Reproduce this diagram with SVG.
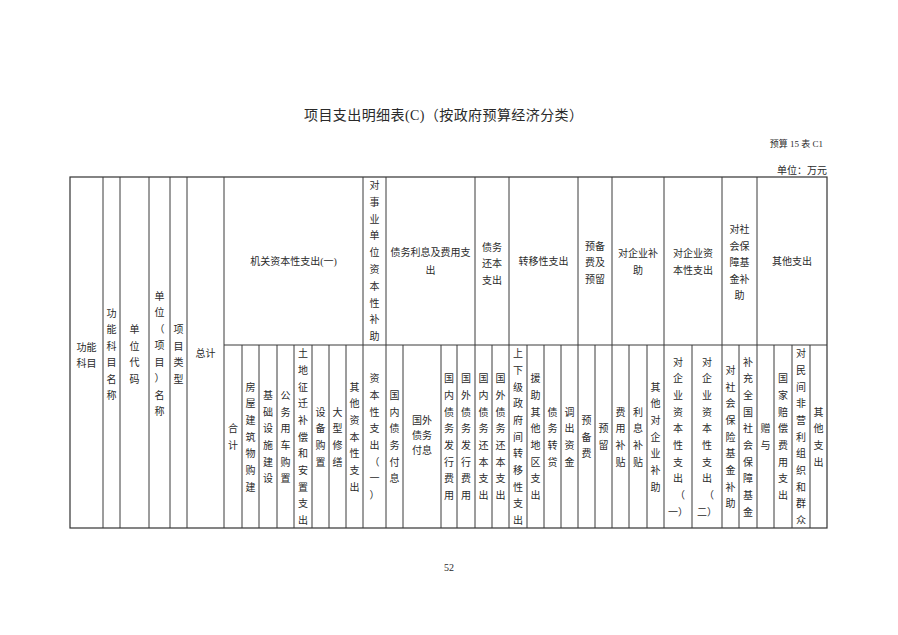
<svg xmlns="http://www.w3.org/2000/svg" width="898" height="635" viewBox="0 0 898 635">
<style>
text{font-family:"Liberation Serif","Noto Sans CJK SC",serif;fill:#2a2a2a;font-size:10px;text-anchor:middle;dominant-baseline:central}
.title{font-size:14px}
.r{text-anchor:end}
.g line{stroke:#3a3a3a;stroke-width:1}
.o{fill:none;stroke:#333;stroke-width:1.2}
</style>
<rect width="898" height="635" fill="#fff"/>
<g id="header">
<text class="title" x="443.5" y="115" textLength="279" lengthAdjust="spacing">项目支出明细表(C)（按政府预算经济分类）</text>
<text class="r" x="823" y="144" style="font-size:9px">预算 15 表 C1</text>
<text class="r" x="827" y="170">单位：万元</text>
</g>
<g id="grid" class="g">
<rect class="o" x="70" y="177" width="757" height="351"/>
<line x1="224" y1="345" x2="827" y2="345"/>
<g id="full">
<line x1="103" y1="177" x2="103" y2="528"/><line x1="120" y1="177" x2="120" y2="528"/>
<line x1="149" y1="177" x2="149" y2="528"/><line x1="170" y1="177" x2="170" y2="528"/>
<line x1="187" y1="177" x2="187" y2="528"/><line x1="224" y1="177" x2="224" y2="528"/>
<line x1="363" y1="177" x2="363" y2="528"/><line x1="386" y1="177" x2="386" y2="528"/>
<line x1="475" y1="177" x2="475" y2="528"/><line x1="509" y1="177" x2="509" y2="528"/>
<line x1="578" y1="177" x2="578" y2="528"/><line x1="612" y1="177" x2="612" y2="528"/>
<line x1="664" y1="177" x2="664" y2="528"/><line x1="722" y1="177" x2="722" y2="528"/>
<line x1="757" y1="177" x2="757" y2="528"/>
</g>
<g id="sub">
<line x1="242" y1="345" x2="242" y2="528"/><line x1="259" y1="345" x2="259" y2="528"/>
<line x1="277" y1="345" x2="277" y2="528"/><line x1="294" y1="345" x2="294" y2="528"/>
<line x1="312" y1="345" x2="312" y2="528"/><line x1="329" y1="345" x2="329" y2="528"/>
<line x1="346" y1="345" x2="346" y2="528"/><line x1="403" y1="345" x2="403" y2="528"/>
<line x1="441" y1="345" x2="441" y2="528"/><line x1="457" y1="345" x2="457" y2="528"/>
<line x1="492" y1="345" x2="492" y2="528"/><line x1="527" y1="345" x2="527" y2="528"/>
<line x1="544" y1="345" x2="544" y2="528"/><line x1="561" y1="345" x2="561" y2="528"/>
<line x1="595" y1="345" x2="595" y2="528"/><line x1="629" y1="345" x2="629" y2="528"/>
<line x1="647" y1="345" x2="647" y2="528"/><line x1="692" y1="345" x2="692" y2="528"/>
<line x1="739" y1="345" x2="739" y2="528"/><line x1="774" y1="345" x2="774" y2="528"/>
<line x1="792" y1="345" x2="792" y2="528"/><line x1="810" y1="345" x2="810" y2="528"/>
</g>
</g>
<g id="left-cells">
<text x="86.5" y="347">功能</text><text x="86.5" y="363">科目</text>
<text><tspan x="111.5" y="312.7">功</tspan><tspan x="111.5" dy="16.5">能</tspan><tspan x="111.5" dy="16.5">科</tspan><tspan x="111.5" dy="16.5">目</tspan><tspan x="111.5" dy="16.5">名</tspan><tspan x="111.5" dy="16.5">称</tspan></text>
<text><tspan x="134.5" y="329.3">单</tspan><tspan x="134.5" dy="16.5">位</tspan><tspan x="134.5" dy="16.5">代</tspan><tspan x="134.5" dy="16.5">码</tspan></text>
<text><tspan x="159.5" y="295.5">单</tspan><tspan x="159.5" dy="16.5">位</tspan><tspan x="159.5" dy="16.5">（</tspan><tspan x="159.5" dy="16.5">项</tspan><tspan x="159.5" dy="16.5">目</tspan><tspan x="159.5" dy="16.5">）</tspan><tspan x="159.5" dy="16.5">名</tspan><tspan x="159.5" dy="16.5">称</tspan></text>
<text><tspan x="178.5" y="329.3">项</tspan><tspan x="178.5" dy="16.5">目</tspan><tspan x="178.5" dy="16.5">类</tspan><tspan x="178.5" dy="16.5">型</tspan></text>
<text x="205.5" y="353">总计</text>
</g>
<g id="group-cells">
<text x="293.5" y="261.5">机关资本性支出(一)</text>
<text><tspan x="374.5" y="185">对</tspan><tspan x="374.5" dy="16.8">事</tspan><tspan x="374.5" dy="16.8">业</tspan><tspan x="374.5" dy="16.8">单</tspan><tspan x="374.5" dy="16.8">位</tspan><tspan x="374.5" dy="16.8">资</tspan><tspan x="374.5" dy="16.8">本</tspan><tspan x="374.5" dy="16.8">性</tspan><tspan x="374.5" dy="16.8">补</tspan><tspan x="374.5" dy="16.8">助</tspan></text>
<text x="430.5" y="252">债务利息及费用支</text><text x="430.5" y="270">出</text>
<text x="492" y="247">债务</text><text x="492" y="263.5">还本</text><text x="492" y="280">支出</text>
<text x="543.5" y="261.5">转移性支出</text>
<text x="595" y="246">预备</text><text x="595" y="262.7">费及</text><text x="595" y="279">预留</text>
<text x="638" y="253.3">对企业补</text><text x="638" y="270">助</text>
<text x="693" y="253.3">对企业资</text><text x="693" y="270">本性支出</text>
<text x="739.5" y="229.5">对社</text><text x="739.5" y="246">会保</text><text x="739.5" y="262.5">障基</text><text x="739.5" y="279">金补</text><text x="739.5" y="295.5">助</text>
<text x="792" y="261.5">其他支出</text>
</g>
<g id="sub-cells">
<text><tspan x="233" y="428.3">合</tspan><tspan x="233" dy="16.67">计</tspan></text>
<text><tspan x="250.5" y="386.7">房</tspan><tspan x="250.5" dy="16.67">屋</tspan><tspan x="250.5" dy="16.67">建</tspan><tspan x="250.5" dy="16.67">筑</tspan><tspan x="250.5" dy="16.67">物</tspan><tspan x="250.5" dy="16.67">购</tspan><tspan x="250.5" dy="16.67">建</tspan></text>
<text><tspan x="268" y="395">基</tspan><tspan x="268" dy="16.67">础</tspan><tspan x="268" dy="16.67">设</tspan><tspan x="268" dy="16.67">施</tspan><tspan x="268" dy="16.67">建</tspan><tspan x="268" dy="16.67">设</tspan></text>
<text><tspan x="285.5" y="395">公</tspan><tspan x="285.5" dy="16.67">务</tspan><tspan x="285.5" dy="16.67">用</tspan><tspan x="285.5" dy="16.67">车</tspan><tspan x="285.5" dy="16.67">购</tspan><tspan x="285.5" dy="16.67">置</tspan></text>
<text><tspan x="303" y="353.3">土</tspan><tspan x="303" dy="16.67">地</tspan><tspan x="303" dy="16.67">征</tspan><tspan x="303" dy="16.67">迁</tspan><tspan x="303" dy="16.67">补</tspan><tspan x="303" dy="16.67">偿</tspan><tspan x="303" dy="16.67">和</tspan><tspan x="303" dy="16.67">安</tspan><tspan x="303" dy="16.67">置</tspan><tspan x="303" dy="16.67">支</tspan><tspan x="303" dy="16.67">出</tspan></text>
<text><tspan x="320.5" y="411.7">设</tspan><tspan x="320.5" dy="16.67">备</tspan><tspan x="320.5" dy="16.67">购</tspan><tspan x="320.5" dy="16.67">置</tspan></text>
<text><tspan x="337.5" y="411.7">大</tspan><tspan x="337.5" dy="16.67">型</tspan><tspan x="337.5" dy="16.67">修</tspan><tspan x="337.5" dy="16.67">缮</tspan></text>
<text><tspan x="354.5" y="386.7">其</tspan><tspan x="354.5" dy="16.67">他</tspan><tspan x="354.5" dy="16.67">资</tspan><tspan x="354.5" dy="16.67">本</tspan><tspan x="354.5" dy="16.67">性</tspan><tspan x="354.5" dy="16.67">支</tspan><tspan x="354.5" dy="16.67">出</tspan></text>
<text><tspan x="374.5" y="378.3">资</tspan><tspan x="374.5" dy="16.67">本</tspan><tspan x="374.5" dy="16.67">性</tspan><tspan x="374.5" dy="16.67">支</tspan><tspan x="374.5" dy="16.67">出</tspan><tspan x="374.5" dy="16.67">（</tspan><tspan x="374.5" dy="16.67">一</tspan><tspan x="374.5" dy="16.67">）</tspan></text>
<text><tspan x="394.5" y="395">国</tspan><tspan x="394.5" dy="16.67">内</tspan><tspan x="394.5" dy="16.67">债</tspan><tspan x="394.5" dy="16.67">务</tspan><tspan x="394.5" dy="16.67">付</tspan><tspan x="394.5" dy="16.67">息</tspan></text>
<text x="422" y="420">国外</text><text x="422" y="435">债务</text><text x="422" y="450">付息</text>
<text><tspan x="449" y="378.3">国</tspan><tspan x="449" dy="16.67">内</tspan><tspan x="449" dy="16.67">债</tspan><tspan x="449" dy="16.67">务</tspan><tspan x="449" dy="16.67">发</tspan><tspan x="449" dy="16.67">行</tspan><tspan x="449" dy="16.67">费</tspan><tspan x="449" dy="16.67">用</tspan></text>
<text><tspan x="466" y="378.3">国</tspan><tspan x="466" dy="16.67">外</tspan><tspan x="466" dy="16.67">债</tspan><tspan x="466" dy="16.67">务</tspan><tspan x="466" dy="16.67">发</tspan><tspan x="466" dy="16.67">行</tspan><tspan x="466" dy="16.67">费</tspan><tspan x="466" dy="16.67">用</tspan></text>
<text><tspan x="483.5" y="378.3">国</tspan><tspan x="483.5" dy="16.67">内</tspan><tspan x="483.5" dy="16.67">债</tspan><tspan x="483.5" dy="16.67">务</tspan><tspan x="483.5" dy="16.67">还</tspan><tspan x="483.5" dy="16.67">本</tspan><tspan x="483.5" dy="16.67">支</tspan><tspan x="483.5" dy="16.67">出</tspan></text>
<text><tspan x="500.5" y="378.3">国</tspan><tspan x="500.5" dy="16.67">外</tspan><tspan x="500.5" dy="16.67">债</tspan><tspan x="500.5" dy="16.67">务</tspan><tspan x="500.5" dy="16.67">还</tspan><tspan x="500.5" dy="16.67">本</tspan><tspan x="500.5" dy="16.67">支</tspan><tspan x="500.5" dy="16.67">出</tspan></text>
<text><tspan x="518" y="353.3">上</tspan><tspan x="518" dy="16.67">下</tspan><tspan x="518" dy="16.67">级</tspan><tspan x="518" dy="16.67">政</tspan><tspan x="518" dy="16.67">府</tspan><tspan x="518" dy="16.67">间</tspan><tspan x="518" dy="16.67">转</tspan><tspan x="518" dy="16.67">移</tspan><tspan x="518" dy="16.67">性</tspan><tspan x="518" dy="16.67">支</tspan><tspan x="518" dy="16.67">出</tspan></text>
<text><tspan x="535.5" y="378.3">援</tspan><tspan x="535.5" dy="16.67">助</tspan><tspan x="535.5" dy="16.67">其</tspan><tspan x="535.5" dy="16.67">他</tspan><tspan x="535.5" dy="16.67">地</tspan><tspan x="535.5" dy="16.67">区</tspan><tspan x="535.5" dy="16.67">支</tspan><tspan x="535.5" dy="16.67">出</tspan></text>
<text><tspan x="552.5" y="411.7">债</tspan><tspan x="552.5" dy="16.67">务</tspan><tspan x="552.5" dy="16.67">转</tspan><tspan x="552.5" dy="16.67">贷</tspan></text>
<text><tspan x="569.5" y="411.7">调</tspan><tspan x="569.5" dy="16.67">出</tspan><tspan x="569.5" dy="16.67">资</tspan><tspan x="569.5" dy="16.67">金</tspan></text>
<text><tspan x="586.5" y="420">预</tspan><tspan x="586.5" dy="16.67">备</tspan><tspan x="586.5" dy="16.67">费</tspan></text>
<text><tspan x="603.5" y="428.3">预</tspan><tspan x="603.5" dy="16.67">留</tspan></text>
<text><tspan x="620.5" y="411.7">费</tspan><tspan x="620.5" dy="16.67">用</tspan><tspan x="620.5" dy="16.67">补</tspan><tspan x="620.5" dy="16.67">贴</tspan></text>
<text><tspan x="638" y="411.7">利</tspan><tspan x="638" dy="16.67">息</tspan><tspan x="638" dy="16.67">补</tspan><tspan x="638" dy="16.67">贴</tspan></text>
<text><tspan x="655.5" y="386.7">其</tspan><tspan x="655.5" dy="16.67">他</tspan><tspan x="655.5" dy="16.67">对</tspan><tspan x="655.5" dy="16.67">企</tspan><tspan x="655.5" dy="16.67">业</tspan><tspan x="655.5" dy="16.67">补</tspan><tspan x="655.5" dy="16.67">助</tspan></text>
<text><tspan x="678" y="361.7">对</tspan><tspan x="678" dy="16.67">企</tspan><tspan x="678" dy="16.67">业</tspan><tspan x="678" dy="16.67">资</tspan><tspan x="678" dy="16.67">本</tspan><tspan x="678" dy="16.67">性</tspan><tspan x="678" dy="16.67">支</tspan><tspan x="678" dy="16.67">出</tspan><tspan x="680" dy="16.67">（</tspan><tspan x="678" dy="16.67">一）</tspan></text>
<text><tspan x="707" y="361.7">对</tspan><tspan x="707" dy="16.67">企</tspan><tspan x="707" dy="16.67">业</tspan><tspan x="707" dy="16.67">资</tspan><tspan x="707" dy="16.67">本</tspan><tspan x="707" dy="16.67">性</tspan><tspan x="707" dy="16.67">支</tspan><tspan x="707" dy="16.67">出</tspan><tspan x="709" dy="16.67">（</tspan><tspan x="707" dy="16.67">二）</tspan></text>
<text><tspan x="730.5" y="370">对</tspan><tspan x="730.5" dy="16.67">社</tspan><tspan x="730.5" dy="16.67">会</tspan><tspan x="730.5" dy="16.67">保</tspan><tspan x="730.5" dy="16.67">险</tspan><tspan x="730.5" dy="16.67">基</tspan><tspan x="730.5" dy="16.67">金</tspan><tspan x="730.5" dy="16.67">补</tspan><tspan x="730.5" dy="16.67">助</tspan></text>
<text><tspan x="748" y="361.7">补</tspan><tspan x="748" dy="16.67">充</tspan><tspan x="748" dy="16.67">全</tspan><tspan x="748" dy="16.67">国</tspan><tspan x="748" dy="16.67">社</tspan><tspan x="748" dy="16.67">会</tspan><tspan x="748" dy="16.67">保</tspan><tspan x="748" dy="16.67">障</tspan><tspan x="748" dy="16.67">基</tspan><tspan x="748" dy="16.67">金</tspan></text>
<text><tspan x="765.5" y="428.3">赠</tspan><tspan x="765.5" dy="16.67">与</tspan></text>
<text><tspan x="783" y="378.3">国</tspan><tspan x="783" dy="16.67">家</tspan><tspan x="783" dy="16.67">赔</tspan><tspan x="783" dy="16.67">偿</tspan><tspan x="783" dy="16.67">费</tspan><tspan x="783" dy="16.67">用</tspan><tspan x="783" dy="16.67">支</tspan><tspan x="783" dy="16.67">出</tspan></text>
<text><tspan x="801" y="353.3">对</tspan><tspan x="801" dy="16.67">民</tspan><tspan x="801" dy="16.67">间</tspan><tspan x="801" dy="16.67">非</tspan><tspan x="801" dy="16.67">营</tspan><tspan x="801" dy="16.67">利</tspan><tspan x="801" dy="16.67">组</tspan><tspan x="801" dy="16.67">织</tspan><tspan x="801" dy="16.67">和</tspan><tspan x="801" dy="16.67">群</tspan><tspan x="801" dy="16.67">众</tspan></text>
<text><tspan x="818.5" y="411.7">其</tspan><tspan x="818.5" dy="16.67">他</tspan><tspan x="818.5" dy="16.67">支</tspan><tspan x="818.5" dy="16.67">出</tspan></text>
</g>
<text id="page" x="449" y="567">52</text>
</svg>
